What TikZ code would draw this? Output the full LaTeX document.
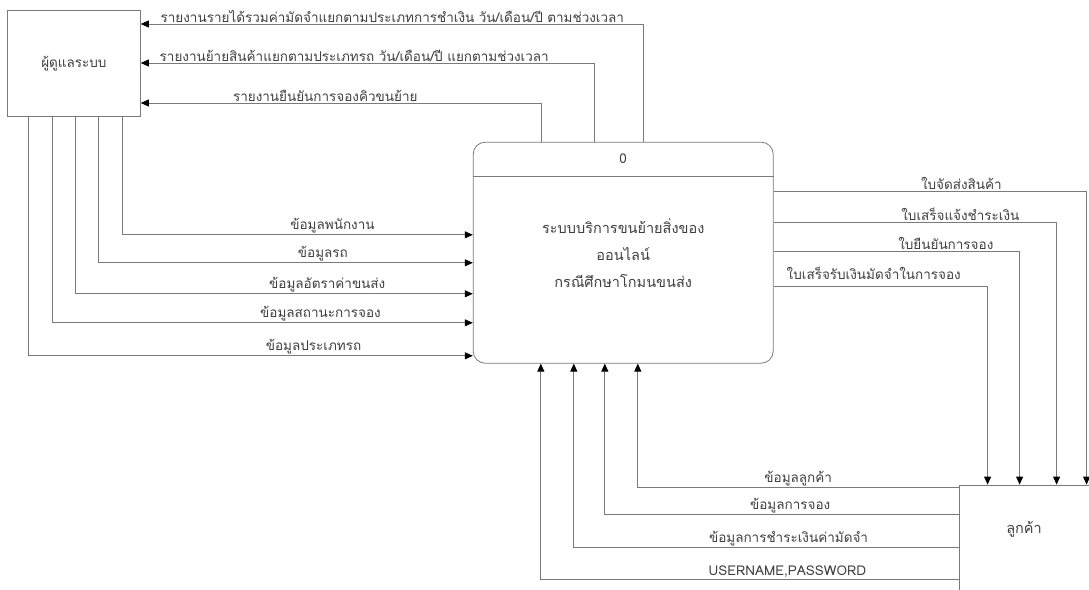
\documentclass[tikz,border=0pt]{standalone}
\usepackage{fontspec}
\newfontfamily\thaifont[Script=Thai]{Loma}
\usetikzlibrary{arrows.meta,positioning}
\definecolor{dfdLine}{HTML}{7A7A7A}
\definecolor{dfdText}{HTML}{3F3F3F}

\begin{document}
\begin{tikzpicture}[x=1pt, y=-1pt, font=\thaifont\fontsize{13.5}{15}\selectfont, text=dfdText,
    entity/.style={draw=dfdLine, line width=0.8pt, inner sep=0pt},
    process/.style={draw=dfdLine, line width=0.8pt, rounded corners=12pt, minimum width=300pt, minimum height=221pt, align=center},
    flow/.style={draw=dfdLine, line width=0.8pt, -{Triangle[length=8pt, width=7pt, color=black]}},
    lbl/.style={above, inner sep=1.5pt}]
    \clip (0,0) rectangle (1089,589);
    \node[entity, anchor=north west, minimum width=133pt, minimum height=106pt] (admin) at (7,10) {ผู้ดูแลระบบ};
    \node[process, below right=25pt and 332pt of admin.south east, font=\thaifont\fontsize{14.5}{27}\selectfont] (sys)
        {ระบบบริการขนย้ายสิ่งของ\\ ออนไลน์\\ กรณีศึกษาโกมนขนส่ง};
    \node[below=0pt of sys.north, minimum height=34pt, inner sep=0pt] (sysid) {0};
    \draw[dfdLine, line width=0.8pt] (sysid.south -| sys.west) -- (sysid.south -| sys.east);
    \node[entity, below right=121pt and 185pt of sys.south east, minimum width=140pt, minimum height=120pt,
        label={[name=custtxt, xshift=-5pt, yshift=16pt, font=\thaifont\fontsize{14.5}{16}\selectfont]center:ลูกค้า}] (cust) {};

    \draw[flow] ([xshift=171pt]sys.north west) |- node[lbl, pos=0.75] {รายงานรายได้รวมค่ามัดจำแยกตามประเภทการชำเงิน วัน/เดือน/ปี ตามช่วงเวลา} ([yshift=-14pt]admin.north east);
    \draw[flow] ([xshift=122pt]sys.north west) |- node[lbl, pos=0.765] {รายงานย้ายสินค้าแยกตามประเภทรถ วัน/เดือน/ปี แยกตามช่วงเวลา} ([yshift=-53pt]admin.north east);
    \draw[flow] ([xshift=69pt]sys.north west) |- node[lbl, pos=0.77] {รายงานยืนยันการจองคิวขนย้าย} ([yshift=-93pt]admin.north east);

    \draw[flow] ([xshift=115pt]admin.south west) |- node[lbl, pos=0.80] {ข้อมูลพนักงาน} ([yshift=-93pt]sys.north west);
    \draw[flow] ([xshift=91pt]admin.south west) |- node[lbl, pos=0.80] {ข้อมูลรถ} ([yshift=-121pt]sys.north west);
    \draw[flow] ([xshift=68pt]admin.south west) |- node[lbl, pos=0.817] {ข้อมูลอัตราค่าขนส่ง} ([yshift=-152pt]sys.north west);
    \draw[flow] ([xshift=45pt]admin.south west) |- node[lbl, pos=0.819] {ข้อมูลสถานะการจอง} ([yshift=-181pt]sys.north west);
    \draw[flow] ([xshift=21pt]admin.south west) |- node[lbl, pos=0.821] {ข้อมูลประเภทรถ} ([yshift=-214pt]sys.north west);

    \draw[flow] ([yshift=-50pt]sys.north east) -| node[lbl, pos=0.30] {ใบจัดส่งสินค้า} ([xshift=128pt]cust.north west);
    \draw[flow] ([yshift=-81pt]sys.north east) -| node[lbl, pos=0.33] {ใบเสร็จแจ้งชำระเงิน} ([xshift=98pt]cust.north west);
    \draw[flow] ([yshift=-110pt]sys.north east) -| node[lbl, pos=0.35] {ใบยืนยันการจอง} ([xshift=61pt]cust.north west);
    \draw[flow] ([yshift=-145pt]sys.north east) -| node[lbl, pos=0.234, yshift=5pt] {ใบเสร็จรับเงินมัดจำในการจอง} ([xshift=29pt]cust.north west);

    \draw[flow] ([yshift=-3pt]cust.north west) -| node[lbl, pos=0.25] {ข้อมูลลูกค้า} ([xshift=165pt]sys.south west);
    \draw[flow] ([yshift=-30pt]cust.north west) -| node[lbl, pos=0.238] {ข้อมูลการจอง} ([xshift=132pt]sys.south west);
    \draw[flow] ([yshift=-63pt]cust.north west) -| node[lbl, pos=0.221] {ข้อมูลการชำระเงินค่ามัดจำ} ([xshift=101pt]sys.south west);
    \draw[flow] ([yshift=-95pt]cust.north west) -| node[lbl, pos=0.205] {USERNAME,PASSWORD} ([xshift=68pt]sys.south west);
\end{tikzpicture}
\end{document}
